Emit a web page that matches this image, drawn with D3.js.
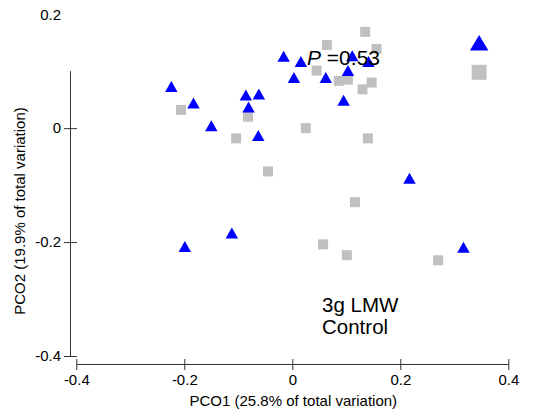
<!DOCTYPE html>
<html><head><meta charset="utf-8">
<script src="https://cdn.jsdelivr.net/npm/d3@7"></script>
<style>html,body{margin:0;padding:0;background:#fff;} svg{display:block;font-family:"Liberation Sans",Arial,sans-serif;}</style>
</head><body><svg id="c" width="543" height="413"></svg>
<script>
// ---- data ----
const xTickValues = [-0.4, -0.2, 0, 0.2, 0.4];
const yTickValues = [-0.4, -0.2, 0, 0.2];
const yAxisTop = 0.1;

// blue triangles
const triX = [-0.224, -0.183, -0.150, -0.086, -0.062, -0.081, -0.063, -0.016, 0.016, 0.003,
              0.062, 0.103, 0.095, 0.111, 0.141, 0.217, 0.317, -0.112, -0.199];
const triY = [0.073, 0.044, 0.004, 0.058, 0.060, 0.037, -0.013, 0.126, 0.117, 0.089,
              0.089, 0.101, 0.049, 0.127, 0.117, -0.088, -0.209, -0.184, -0.208];
// grey squares
const sqX = [-0.206, -0.082, -0.104, -0.045, 0.025, 0.045, 0.064, 0.086, 0.103, 0.130,
             0.147, 0.135, 0.156, 0.140, 0.116, 0.057, 0.101, 0.270];
const sqY = [0.032, 0.020, -0.018, -0.076, 0.000, 0.101, 0.146, 0.083, 0.085, 0.068,
             0.080, 0.169, 0.139, -0.018, -0.130, -0.204, -0.223, -0.232];
// large markers (group centroids)
const triCentroid = [0.346, 0.150];
const sqCentroid = [0.346, 0.098];

const groupLabels = ["3g LMW", "Control"];
const statLabel = {p: "P", rest: " =0.53"};
const xTitle = "PCO1 (25.8% of total variation)";
const yTitle = "PCO2 (19.9% of total variation)";

// ---- chart ----
const svg = d3.select('#c');
const x = d3.scaleLinear().domain([-0.4, 0.4]).range([76.3, 508.3]);
const y = d3.scaleLinear().domain([-0.4, 0.2]).range([356, 14.2]);
const axisColor = '#333';
const fontSize = 15;

// x axis
const axisYpos = 364;
const gx = svg.append('g').attr('transform', `translate(0,${axisYpos})`)
  .call(d3.axisBottom(x).tickValues(xTickValues).tickSizeOuter(0).tickFormat(d => String(d)));
gx.attr('font-family', null).attr('font-size', null);
gx.select('.domain').attr('stroke', axisColor);
gx.selectAll('.tick line').attr('y1', -5).attr('y2', 6).attr('stroke', axisColor);
gx.selectAll('.tick text').attr('y', 21).attr('dy', null).attr('font-size', fontSize).attr('fill', '#000');

// y axis
const axisXpos = 70.5;
const gy = svg.append('g').attr('transform', `translate(${axisXpos},0)`)
  .call(d3.axisLeft(y).tickValues(yTickValues).tickSizeOuter(0).tickFormat(d => String(d)));
gy.attr('font-family', null).attr('font-size', null);
gy.select('.domain').remove();
gy.append('line').attr('y1', y(-0.4)).attr('y2', y(yAxisTop)).attr('stroke', axisColor);
gy.selectAll('.tick line').attr('x1', -6.5).attr('x2', 6.5).attr('stroke', axisColor)
  .attr('display', d => d > yAxisTop ? 'none' : null);
gy.selectAll('.tick text').attr('x', -9.5).attr('font-size', fontSize).attr('fill', '#000');

// axis titles
svg.append('text').attr('x', (x(-0.4) + x(0.4)) / 2 + 1).attr('y', 406)
  .attr('text-anchor', 'middle').attr('font-size', fontSize).text(xTitle);
svg.append('text').attr('transform', 'translate(20,211) rotate(-90)')
  .attr('dy', '0.35em').attr('text-anchor', 'middle').attr('font-size', fontSize).text(yTitle);

// points
const sq = sqX.map((v, i) => ({x: v, y: sqY[i], s: 10}));
sq.push({x: sqCentroid[0], y: sqCentroid[1], s: 15});
const tr = triX.map((v, i) => ({x: v, y: triY[i], w: 12.5, h: 11}));
tr.push({x: triCentroid[0], y: triCentroid[1], w: 18.5, h: 15.5});

svg.append('g').selectAll('rect').data(sq).join('rect')
  .attr('x', d => x(d.x) - d.s / 2).attr('y', d => y(d.y) - d.s / 2)
  .attr('width', d => d.s).attr('height', d => d.s).attr('fill', '#c0c0c0');

svg.append('g').selectAll('path').data(tr).join('path')
  .attr('d', d => {
    const cx = x(d.x), cy = y(d.y);
    return `M${cx},${cy - d.h / 2}L${cx + d.w / 2},${cy + d.h / 2}L${cx - d.w / 2},${cy + d.h / 2}Z`;
  })
  .attr('fill', '#0000ff');

// stat annotation
const st = svg.append('text').attr('x', 307).attr('y', 65).attr('font-size', 21).attr('fill', '#000');
st.append('tspan').attr('font-style', 'italic').text(statLabel.p);
st.append('tspan').text(statLabel.rest);

// group labels
svg.append('g').selectAll('text').data(groupLabels).join('text')
  .attr('x', 322).attr('y', (d, i) => 312 + i * 21.5)
  .attr('font-size', 20.5).attr('fill', '#000').text(d => d);
</script></body></html>
